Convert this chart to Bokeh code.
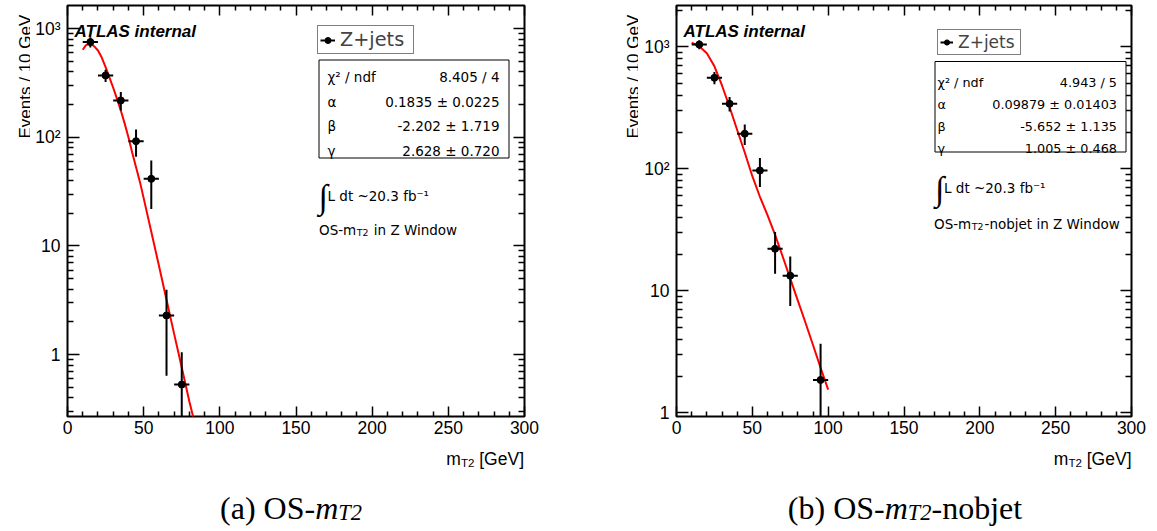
import math
from bokeh.plotting import figure
from bokeh.models import (Range1d, FixedTicker, LinearAxis, LogAxis, Label,
                          BoxAnnotation, Legend, LegendItem, ColumnDataSource)
from bokeh.layouts import row, column
from bokeh.embed import file_html
from bokeh.resources import INLINE

# ---------------- data ----------------
bin_half_width = 5

a_centers = [15, 25, 35, 45, 55, 65, 75]
a_counts = [750, 370, 218, 92, 41.4, 2.29, 0.53]
a_errors = [80, 48, 42, 26, 19.5, 1.65, 0.52]
a_fit_x = [10, 12, 14, 16, 18, 20, 22.5, 25, 27.5, 30, 32.5, 35, 37.5, 40, 42.5,
           45, 47.5, 50, 55, 60, 65, 70, 75, 80, 83]
a_fit_y = [637, 700, 723, 712, 675, 628, 540, 441, 355, 285, 225, 176, 134, 100, 72,
           53, 39, 27.5, 13.5, 6.6, 3.2, 1.55, 0.76, 0.37, 0.25]

b_centers = [15, 25, 35, 45, 55, 65, 75, 95]
b_counts = [1044, 557, 341, 194, 96.8, 22.1, 13.3, 1.86]
b_errors = [90, 64, 46, 37, 26, 8.3, 5.8, 1.83]
b_fit_x = [10, 15, 20, 25, 30, 35, 40, 45, 50, 55, 60, 65, 70, 75, 80, 85, 90, 95, 100]
b_fit_y = [1084, 1009, 887, 692, 482, 321, 208, 136, 87, 59, 41.7, 28.8, 19.1, 12.6,
           8.3, 5.5, 3.6, 2.34, 1.55]

a_stats = [("χ² / ndf", "8.405 / 4"), ("α", "0.1835 ± 0.0225"),
           ("β", "-2.202 ± 1.719"), ("γ", "2.628 ± 0.720")]
b_stats = [("χ² / ndf", "4.943 / 5"), ("α", "0.09879 ± 0.01403"),
           ("β", "-5.652 ± 1.135"), ("γ", "1.005 ± 0.468")]

x_major_ticks = [0, 50, 100, 150, 200, 250, 300]
x_minor_ticks = [10, 20, 30, 40, 60, 70, 80, 90, 110, 120, 130, 140, 160, 170, 180, 190,
                 210, 220, 230, 240, 260, 270, 280, 290]
y_major_ticks = [1, 10, 100, 1000]
y_minor_ticks = [0.3, 0.4, 0.5, 0.6, 0.7, 0.8, 0.9, 2, 3, 4, 5, 6, 7, 8, 9,
                 20, 30, 40, 50, 60, 70, 80, 90, 200, 300, 400, 500, 600, 700, 800, 900, 2000]
y_tick_labels = {1: "1", 10: "10", 100: "10²", 1000: "10³"}

# ---------------- text width helpers (em units) ----------------
ARIAL = {' ': 0.278, '[': 0.278, ']': 0.278, 'G': 0.778, 'e': 0.556, 'V': 0.667,
         'm': 0.833, 'T': 0.611, '2': 0.556}
DEJAVU = {'O': 0.787, 'S': 0.635, '-': 0.361, 'm': 0.974, 'T': 0.611, '2': 0.636,
          ' ': 0.318, 'i': 0.278, 'n': 0.634, 'Z': 0.685, 'W': 0.989, 'd': 0.635,
          'o': 0.612, 'w': 0.818, 'b': 0.635, 'j': 0.278, 'e': 0.615, 't': 0.392}
TIMES = {'(': 0.333, ')': 0.333, 'a': 0.444, 'b': 0.5, ' ': 0.25, 'O': 0.722, 'S': 0.556,
         '-': 0.333, 'n': 0.5, 'o': 0.5, 'j': 0.278, 'e': 0.444, 't': 0.278}
TIMES_I = {'m': 0.722, 'T': 0.556, '2': 0.5}


def sw(s, table, size):
    return sum(table.get(c, 0.556) for c in s) * size


FRAME_H = 411
FRAME_BOTTOM = 416      # page y of the frames' bottom edge
PANEL_H = 448
PAGE_H = 531


def lab(p, x, y, text, font="Liberation Sans", size=17, style="normal", align="left",
        baseline="alphabetic", angle=0.0):
    p.add_layout(Label(x=x, y=y, x_units="screen", y_units="screen", text=text,
                       text_font=font, text_font_size=f"{size}px", text_font_style=style,
                       text_align=align, text_baseline=baseline, angle=angle,
                       text_color="black"))


def text_fig(w, h):
    f = figure(width=w, height=h, x_range=Range1d(0, w), y_range=Range1d(0, h),
               output_backend="svg", toolbar_location=None,
               min_border=0, min_border_left=0, min_border_right=0,
               min_border_top=0, min_border_bottom=0,
               x_axis_location=None, y_axis_location=None, outline_line_color=None,
               background_fill_color="white", border_fill_color="white")
    f.grid.visible = False
    return f


def style_axis(ax, tick_in, minor_in, show_labels):
    ax.axis_line_color = None
    ax.major_tick_in = tick_in
    ax.major_tick_out = 0
    ax.minor_tick_in = minor_in
    ax.minor_tick_out = 0
    ax.major_tick_line_color = "black"
    ax.minor_tick_line_color = "black"
    ax.major_tick_line_width = 1.5
    ax.minor_tick_line_width = 1.5
    if show_labels:
        ax.major_label_text_font = "Liberation Sans"
        ax.major_label_text_font_size = "17.5px"
        ax.major_label_text_color = "black"
    else:
        ax.major_label_text_font_size = "1px"
        ax.major_label_text_color = None
        ax.major_label_standoff = 0


def panel(xc, yv, ye, fx, fy, yrange, bl, fw, br):
    p = figure(frame_width=fw, frame_height=FRAME_H, x_range=Range1d(0, 300),
               y_range=Range1d(*yrange), y_axis_type="log", output_backend="svg",
               toolbar_location=None, min_border_left=bl, min_border_right=br,
               min_border_top=5, min_border_bottom=PANEL_H - FRAME_H - 5,
               background_fill_color="white", border_fill_color="white",
               outline_line_color="black", outline_line_width=2)
    p.grid.visible = False

    xb = p.xaxis[0]
    xb.ticker = FixedTicker(ticks=x_major_ticks, minor_ticks=x_minor_ticks)
    style_axis(xb, 10, 5, True)
    xb.major_label_standoff = 4
    yl = p.yaxis[0]
    yl.ticker = FixedTicker(ticks=y_major_ticks, minor_ticks=y_minor_ticks)
    yl.major_label_overrides = y_tick_labels
    style_axis(yl, 12, 6, True)
    yl.major_label_standoff = 7

    xt = LinearAxis(ticker=FixedTicker(ticks=x_major_ticks, minor_ticks=x_minor_ticks))
    style_axis(xt, 10, 5, False)
    p.add_layout(xt, "above")
    yr = LogAxis(ticker=FixedTicker(ticks=y_major_ticks, minor_ticks=y_minor_ticks))
    style_axis(yr, 11, 6, False)
    p.add_layout(yr, "right")

    src = ColumnDataSource(dict(
        x=xc, y=yv,
        xl=[c - bin_half_width for c in xc], xr=[c + bin_half_width for c in xc],
        ylo=[v - e for v, e in zip(yv, ye)], yhi=[v + e for v, e in zip(yv, ye)]))
    p.line(fx, fy, line_color="red", line_width=2)
    p.segment(x0="x", y0="ylo", x1="x", y1="yhi", source=src,
              line_color="black", line_width=2)
    hseg = p.segment(x0="xl", y0="y", x1="xr", y1="y", source=src,
                     line_color="black", line_width=2)
    pts = p.scatter(x="x", y="y", source=src, size=7, marker="circle",
                    fill_color="black", line_color="black")
    return p, hseg, pts


def decorate(p, hseg, pts, leg_xy, leg_font, leg_glyph_w, leg_label_w,
             box, stats, stats_font, name_x, val_x, rows_y, lumi_xy, sub_line, sub_xy):
    lab(p, 7, 385, "ATLAS internal", size=17, style="bold italic")
    leg = Legend(items=[LegendItem(label="Z+jets", renderers=[hseg, pts])],
                 location=leg_xy, orientation="vertical",
                 border_line_color="black", border_line_width=1,
                 background_fill_color="white", background_fill_alpha=1.0,
                 label_text_font="DejaVu Sans", label_text_font_size=f"{leg_font}px",
                 glyph_width=leg_glyph_w, glyph_height=16, label_height=16,
                 label_width=leg_label_w, label_standoff=5, padding=2, margin=0,
                 spacing=0)
    p.add_layout(leg)
    l, r, t, b = box
    p.add_layout(BoxAnnotation(left=l, right=r, top=t, bottom=b,
                               left_units="screen", right_units="screen",
                               top_units="screen", bottom_units="screen",
                               fill_color="white", fill_alpha=1.0,
                               line_color="black", line_width=1, line_alpha=1.0))
    for (name, val), yy in zip(stats, rows_y):
        lab(p, name_x, yy, name, font="DejaVu Sans", size=stats_font)
        lab(p, val_x, yy, val, font="DejaVu Sans", size=stats_font, align="right")
    lx, ly = lumi_xy
    lab(p, lx, ly - 1, "∫", font="Liberation Serif", size=34)
    lab(p, lx + 9, ly, "L dt ~20.3 fb⁻¹", font="DejaVu Sans", size=13.5)
    sx, sy = sub_xy
    fs = 13.5
    lab(p, sx, sy, "OS-m", font="DejaVu Sans", size=fs)
    x2 = sx + sw("OS-m", DEJAVU, fs) + 0.5
    lab(p, x2, sy - 3, "T2", font="DejaVu Sans", size=fs * 0.7)
    x3 = x2 + sw("T2", DEJAVU, fs * 0.7) + 1
    if sub_line.startswith(" "):
        x3 += sw(" ", DEJAVU, fs)
    lab(p, x3, sy, sub_line.strip(), font="DejaVu Sans", size=fs)


def x_title(f, x_end, y_base):
    ts = 17.5
    lab(f, x_end, y_base, "[GeV]", size=ts, align="right")
    xe2 = x_end - sw(" [GeV]", ARIAL, ts)
    lab(f, xe2, y_base - 4, "T2", size=ts * 0.66, align="right")
    xe3 = xe2 - sw("T2", ARIAL, ts * 0.66)
    lab(f, xe3, y_base, "m", size=ts, align="right")


def caption(f, before, after, center, y_base):
    cs = 32
    w1 = sw(before, TIMES, cs)
    w2 = sw("m", TIMES_I, cs)
    w3 = sw("T2", TIMES_I, cs * 0.7)
    w4 = sw(after, TIMES, cs)
    x0 = center - (w1 + w2 + w3 + w4) / 2
    lab(f, x0, y_base, before.strip(), font="Liberation Serif", size=cs)
    lab(f, x0 + w1, y_base, "m", font="Liberation Serif", size=cs, style="italic")
    lab(f, x0 + w1 + w2, y_base - 5, "T2", font="Liberation Serif", size=cs * 0.7,
        style="italic")
    if after:
        lab(f, x0 + w1 + w2 + w3, y_base, after, font="Liberation Serif", size=cs)


# ---- panel (a) ----
ya = text_fig(30, PANEL_H)
lab(ya, 25, FRAME_BOTTOM - 138, "Events / 10 GeV", size=17, align="left", angle=math.pi / 2)
pa, ha, pta = panel(a_centers, a_counts, a_errors, a_fit_x, a_fit_y, (0.2694, 1628), 37, 457, 54)
decorate(pa, ha, pta, leg_xy=(250, 362), leg_font=19.3, leg_glyph_w=15, leg_label_w=71,
         box=(251.5, 441.5, 356.5, 258.5), stats=a_stats, stats_font=13.5,
         name_x=260, val_x=432, rows_y=[340, 314.5, 291, 266],
         lumi_xy=(251, 221), sub_line=" in Z Window", sub_xy=(251.5, 187))

# ---- panel (b) ----
yb = text_fig(60, PANEL_H)
lab(yb, 55, FRAME_BOTTOM - 138, "Events / 10 GeV", size=17, align="left", angle=math.pi / 2)
pb, hb, ptb = panel(b_centers, b_counts, b_errors, b_fit_x, b_fit_y, (0.933, 2180), 38, 455, 26)
decorate(pb, hb, ptb, leg_xy=(261, 361.5), leg_font=17, leg_glyph_w=13, leg_label_w=60,
         box=(258.5, 449.5, 355, 264.5), stats=b_stats, stats_font=12.8,
         name_x=261, val_x=440.5, rows_y=[333.7, 311.7, 290, 268.3],
         lumi_xy=(258.5, 229), sub_line="-nobjet in Z Window", sub_xy=(257.5, 193))

# ---- bottom strip: axis titles and captions ----
cap_h = PAGE_H - PANEL_H
cap = text_fig(1157, cap_h)
x_title(cap, 523.5, PAGE_H - 458)
x_title(cap, 1131, PAGE_H - 458)
caption(cap, "(a) OS-", "", 290.5, PAGE_H - 519 + 12)
caption(cap, "(b) OS-", "-nobjet", 904.5, PAGE_H - 519 + 12)

layout = column(row(ya, pa, yb, pb), cap)
open("out.html", "w").write(file_html(layout, INLINE))
